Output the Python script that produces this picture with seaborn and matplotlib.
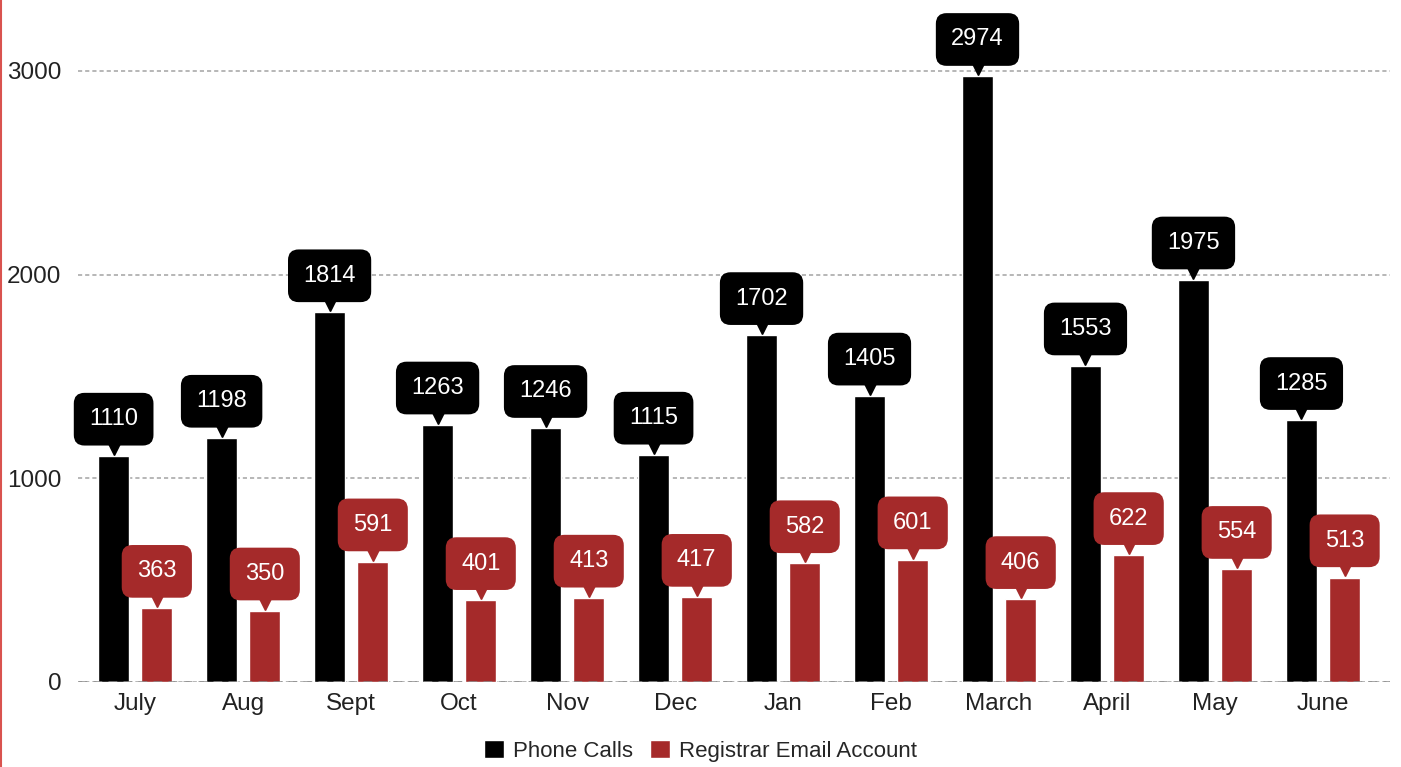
import pandas as pd
import seaborn as sns
import matplotlib.pyplot as plt
from matplotlib.lines import Line2D
from matplotlib.transforms import offset_copy

# Chart data
months = ['July', 'Aug', 'Sept', 'Oct', 'Nov', 'Dec',
          'Jan', 'Feb', 'March', 'April', 'May', 'June']
phone_calls = [1110, 1198, 1814, 1263, 1246, 1115, 1702, 1405, 2974, 1553, 1975, 1285]
email_accounts = [363, 350, 591, 401, 413, 417, 582, 601, 406, 622, 554, 513]
series_names = ['Phone Calls', 'Registrar Email Account']
colors = ['#000000', '#a52a2a']

df = pd.DataFrame({
    'month': months * 2,
    'count': phone_calls + email_accounts,
    'series': [series_names[0]] * len(months) + [series_names[1]] * len(months),
})

sns.set_theme(style='white')
plt.rcParams['font.family'] = ['Liberation Sans', 'DejaVu Sans']

fig = plt.figure(figsize=(14.01, 7.67), dpi=100)
ax = fig.add_axes([78 / 1401, 85 / 767, (1390 - 78) / 1401, 682 / 767])

sns.barplot(data=df, x='month', y='count', hue='series', palette=colors,
            width=0.8, gap=0.28, saturation=1, ax=ax, zorder=2)

ax.set_ylim(0, 3348)
ax.set_xlim(-0.53, 11.62)
ax.set_yticks([0, 1000, 2000, 3000])
ax.set_xlabel('')
ax.set_ylabel('')
for s in ax.spines.values():
    s.set_visible(False)
ax.tick_params(axis='both', length=0, labelsize=17.5, colors='#222222')
ax.tick_params(axis='y', pad=12)
ax.tick_params(axis='x', pad=8)

# Grid lines
ax.yaxis.grid(True, color='#aaaaaa', linestyle=(0, (2.5, 1.8)), lw=1.2, zorder=0)
ax.axhline(0, color='#8c8c8c', linestyle=(0, (3.5, 2.5)), lw=1.8, zorder=3)

# Value labels with pointer
for container, c in zip(ax.containers, colors):
    ax.bar_label(container, padding=18.5, color='white', fontsize=17, zorder=5,
                 bbox=dict(boxstyle='round,pad=0.65,rounding_size=0.45', fc=c, ec='none'))
    xs = [p.get_x() + p.get_width() / 2 for p in container]
    ys = [p.get_height() for p in container]
    tr = offset_copy(ax.transData, fig=fig, y=6.5, units='points')
    ax.plot(xs, ys, ls='none', marker='v', ms=11, color=c, transform=tr,
            clip_on=False, zorder=4)

# Legend at the bottom
handles, labels = ax.get_legend_handles_labels()
ax.get_legend().remove()
fig.legend(handles, labels, loc='center', bbox_to_anchor=(0.5, 0.021), ncol=2,
           frameon=False, fontsize=16, handlelength=0.9, handleheight=0.9,
           handletextpad=0.4, columnspacing=0.8)

# Red edge line at the left of the figure
fig.add_artist(Line2D([0.001, 0.001], [0, 1], transform=fig.transFigure,
                      color='#d9534f', lw=1.5))

fig.savefig('out.png', dpi=100)
